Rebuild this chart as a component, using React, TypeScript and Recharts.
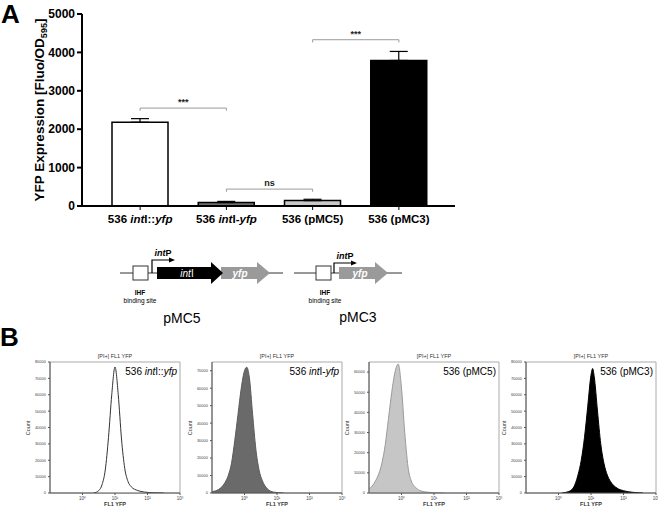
import React from 'react';
import {
  BarChart, Bar, XAxis, YAxis, Cell, ErrorBar, ReferenceLine,
  AreaChart, Area, ReferenceArea,
} from 'recharts';

const FONT = "'Liberation Sans', Arial, sans-serif";

// ---------- Panel A data ----------
const strains = ['536 intI::yfp', '536 intI-yfp', '536 (pMC5)', '536 (pMC3)'];
const yfpMean = [2180, 90, 140, 3790];
const yfpSd = [95, 30, 35, 235];
const barFills = ['#ffffff', '#6e6e6e', '#c8c8c8', '#000000'];
const yTicksA = [0, 1000, 2000, 3000, 4000, 5000];
const bracketFrom = [0, 1, 2];
const bracketTo = [1, 2, 3];
const bracketLevel = [2550, 440, 4330];
const bracketText = ['***', 'ns', '***'];

// ---------- Panel B data (x in log10 units of FL1 YFP) ----------
const histTitles = ['536 intI::yfp', '536 intI-yfp', '536 (pMC5)', '536 (pMC3)'];
const h1x = [0.35, 0.5, 0.6, 0.7, 0.8, 0.9, 1.0, 1.1, 1.2, 1.3, 1.4, 1.5, 1.7, 1.9, 2.2, 2.5];
const h1y = [0, 1500, 5000, 14000, 34000, 60000, 77000, 60000, 33000, 15000, 7000, 3800, 1500, 600, 100, 0];
const h2x = [-1.0, -0.8, -0.6, -0.5, -0.4, -0.3, -0.2, -0.1, 0.0, 0.07, 0.15, 0.25, 0.35, 0.45, 0.55, 0.7, 0.9, 1.2];
const h2y = [800, 2000, 6000, 10000, 17000, 30000, 45000, 60000, 70000, 72000, 66000, 45000, 25000, 13000, 7000, 2500, 500, 0];
const h3x = [-1.0, -0.9, -0.8, -0.7, -0.6, -0.5, -0.4, -0.3, -0.2, -0.1, 0.0, 0.1, 0.2, 0.3, 0.45, 0.6, 0.8, 1.0, 1.3];
const h3y = [2000, 3500, 6000, 9500, 15000, 24000, 37000, 50000, 60000, 64000, 52000, 30000, 13000, 6000, 2500, 1000, 400, 100, 0];
const h4x = [0.1, 0.3, 0.45, 0.6, 0.7, 0.8, 0.9, 1.0, 1.05, 1.1, 1.2, 1.3, 1.4, 1.5, 1.6, 1.8, 2.0, 2.3, 2.6];
const h4y = [0, 800, 3000, 11000, 20000, 34000, 53000, 72000, 76000, 71000, 50000, 30000, 18000, 11000, 7000, 3000, 1400, 400, 0];
const histYMax = [80000, 75000, 65000, 80000];
const histYTicks = [
  [0, 10000, 20000, 30000, 40000, 50000, 60000, 70000, 80000],
  [0, 10000, 20000, 30000, 40000, 50000, 60000, 70000],
  [0, 10000, 20000, 30000, 40000, 50000, 60000],
  [0, 10000, 20000, 30000, 40000, 50000, 60000, 70000, 80000],
];
const logTicks = [0, 1, 2, 3];
const supDigits = ['⁰', '¹', '²', '³', '⁴'];

const histFill = ['#ffffff', '#6a6a6a', '#c6c6c6', '#000000'];
const histStroke = ['#333333', '#5a5a5a', '#9a9a9a', '#000000'];
const histLeft = [50, 212, 369, 526];

const barData = strains.map((s, i) => ({
  name: s,
  mean: yfpMean[i],
  err: [0, yfpSd[i]],
}));

const histSets = [
  h1x.map((x, i) => ({ x, y: h1y[i] })),
  h2x.map((x, i) => ({ x, y: h2y[i] })),
  h3x.map((x, i) => ({ x, y: h3y[i] })),
  h4x.map((x, i) => ({ x, y: h4y[i] })),
];

function italicParts(label: string, fontSize: number, fill = '#000') {
  const parts = label.split(/(int|yfp)/).filter(Boolean);
  return parts.map((p, i) => (
    <tspan key={i} fontStyle={p === 'int' || p === 'yfp' ? 'italic' : 'normal'} fill={fill} fontSize={fontSize}>
      {p}
    </tspan>
  ));
}

const StrainTick = (props: any) => {
  const { x, y, payload } = props;
  return (
    <text x={x} y={y + 11} textAnchor="middle" fontSize={11.5} fontWeight="bold" fontFamily={FONT}>
      {italicParts(String(payload.value), 11.5)}
    </text>
  );
};

function HistPanel({ idx }: { idx: number }) {
  const left = histLeft[idx];
  return (
    <div style={{ position: 'absolute', left: left - 30, top: 350 }}>
      <AreaChart width={165} height={162} data={histSets[idx]} margin={{ top: 12, right: 5, left: 0, bottom: 0 }}>
        <ReferenceArea x1={-1} x2={3} y1={0} y2={histYMax[idx]} fill="none" stroke="#aaaaaa" strokeWidth={1} ifOverflow="visible" />
        <XAxis
          type="number"
          dataKey="x"
          domain={[-1, 3]}
          ticks={logTicks}
          allowDataOverflow
          tickFormatter={(v: number) => '10' + supDigits[v]}
          tick={{ fontSize: 4.5, fill: '#444', fontFamily: FONT }}
          tickSize={2}
          axisLine={{ stroke: '#555' }}
          tickLine={{ stroke: '#555' }}
          height={19}
        />
        <YAxis
          type="number"
          domain={[0, histYMax[idx]]}
          ticks={histYTicks[idx]}
          allowDataOverflow
          tick={{ fontSize: 4, fill: '#444', fontFamily: FONT }}
          tickSize={2}
          axisLine={{ stroke: '#555' }}
          tickLine={{ stroke: '#555' }}
          width={30}
        />
        <Area
          type="monotone"
          dataKey="y"
          fill={histFill[idx]}
          fillOpacity={1}
          stroke={histStroke[idx]}
          strokeWidth={1}
          isAnimationActive={false}
        />
      </AreaChart>
    </div>
  );
}

function Overlay() {
  const g = { fontFamily: FONT };
  return (
    <svg width={658} height={512} style={{ position: 'absolute', left: 0, top: 0, pointerEvents: 'none' }}>
      <g style={g}>
        <text x={1} y={23} fontSize={26} fontWeight="bold">A</text>
        <text x={0} y={346} fontSize={26} fontWeight="bold">B</text>
        {/* y label panel A */}
        <text transform="rotate(-90, 44, 110)" x={44} y={110} textAnchor="middle" fontSize={13.5} fontWeight="bold">
          YFP Expression [Fluo/OD<tspan dy={3} fontSize={9}>595</tspan><tspan dy={-3}>]</tspan>
        </text>

        {/* pMC5 construct */}
        <line x1={120} y1={273} x2={283} y2={273} stroke="#333" strokeWidth={1} />
        <rect x={133} y={266} width={15} height={14} fill="#fff" stroke="#333" strokeWidth={1} />
        <path d="M152,273 V260 H170" fill="none" stroke="#000" strokeWidth={1.2} />
        <polygon points="169,257.5 175,260 169,262.5" fill="#000" />
        <text x={163} y={256} fontSize={9} fontWeight="bold" textAnchor="middle"><tspan fontStyle="italic">int</tspan>P</text>
        <polygon points="221,267 257,267 257,262 270,273 257,284 257,279 221,279" fill="#9a9a9a" />
        <polygon points="157,267 211,267 211,262 223,273 211,284 211,279 157,279" fill="#000" />
        <text x={187} y={277} fontSize={10} fill="#fff" textAnchor="middle"><tspan fontStyle="italic">int</tspan>I</text>
        <text x={240} y={277} fontSize={10} fill="#fff" fontStyle="italic" fontWeight="bold" textAnchor="middle">yfp</text>
        <text x={140} y={295} fontSize={6.5} fontWeight="bold" textAnchor="middle">IHF</text>
        <text x={140} y={303} fontSize={6.5} textAnchor="middle">binding site</text>
        <text x={182} y={323} fontSize={14} textAnchor="middle">pMC5</text>

        {/* pMC3 construct */}
        <line x1={294} y1={273} x2={402} y2={273} stroke="#333" strokeWidth={1} />
        <rect x={316} y={266} width={15} height={14} fill="#fff" stroke="#333" strokeWidth={1} />
        <path d="M334,273 V263 H352" fill="none" stroke="#000" strokeWidth={1.2} />
        <polygon points="351,260.5 357,263 351,265.5" fill="#000" />
        <text x={345} y={259} fontSize={9} fontWeight="bold" textAnchor="middle"><tspan fontStyle="italic">int</tspan>P</text>
        <polygon points="339,267 375,267 375,262 388,273 375,284 375,279 339,279" fill="#9a9a9a" />
        <text x={360} y={277} fontSize={10} fill="#fff" fontStyle="italic" fontWeight="bold" textAnchor="middle">yfp</text>
        <text x={325} y={295} fontSize={6.5} fontWeight="bold" textAnchor="middle">IHF</text>
        <text x={325} y={303} fontSize={6.5} textAnchor="middle">binding site</text>
        <text x={358} y={322} fontSize={14} textAnchor="middle">pMC3</text>

        {/* histogram texts */}
        {histLeft.map((l, i) => (
          <g key={i}>
            <text x={l + 65} y={358} fontSize={5.5} textAnchor="middle" fill="#333">[PI+] FL1 YFP</text>
            <text x={l + 127} y={375} fontSize={10} textAnchor="end">{italicParts(histTitles[i], 10)}</text>
            <text transform={`rotate(-90, ${l - 20}, 428)`} x={l - 20} y={428} fontSize={5.5} textAnchor="middle" fill="#333">Count</text>
            <text x={l + 65} y={506} fontSize={5.5} fontWeight="bold" textAnchor="middle" fill="#333">FL1 YFP</text>
          </g>
        ))}
      </g>
    </svg>
  );
}

export default function App() {
  return (
    <div style={{ position: 'absolute', left: 0, top: 0, width: 658, height: 512, background: '#fff', fontFamily: FONT }}>
      <div style={{ position: 'absolute', left: 0, top: 0 }}>
        <BarChart width={470} height={232} data={barData} margin={{ top: 14, right: 15, left: 0, bottom: 2 }} barSize={56}>
          <XAxis
            dataKey="name"
            type="category"
            padding={{ left: 15, right: 13 }}
            axisLine={{ stroke: '#000', strokeWidth: 2 }}
            tickLine={{ stroke: '#000', strokeWidth: 1 }}
            tickSize={4}
            tick={<StrainTick />}
            interval={0}
            height={24}
          />
          <YAxis
            type="number"
            domain={[0, 5000]}
            ticks={yTicksA}
            width={82}
            axisLine={{ stroke: '#000', strokeWidth: 2 }}
            tickLine={{ stroke: '#000', strokeWidth: 2 }}
            tickSize={5}
            tick={{ fontSize: 12, fontWeight: 'bold', fill: '#000', fontFamily: FONT }}
          />
          {bracketFrom.map((f, i) => (
            <ReferenceLine
              key={'h' + i}
              segment={[{ x: strains[f], y: bracketLevel[i] }, { x: strains[bracketTo[i]], y: bracketLevel[i] }]}
              stroke="#9a9a9a"
              strokeWidth={1}
              label={{ value: bracketText[i], position: 'top', fontSize: 9, fontWeight: 'bold', fill: '#222', offset: 3 }}
            />
          ))}
          {bracketFrom.map((f, i) => (
            <ReferenceLine
              key={'l' + i}
              segment={[{ x: strains[f], y: bracketLevel[i] }, { x: strains[f], y: bracketLevel[i] - 70 }]}
              stroke="#9a9a9a"
              strokeWidth={1}
            />
          ))}
          {bracketTo.map((t, i) => (
            <ReferenceLine
              key={'r' + i}
              segment={[{ x: strains[t], y: bracketLevel[i] }, { x: strains[t], y: bracketLevel[i] - 70 }]}
              stroke="#9a9a9a"
              strokeWidth={1}
            />
          ))}
          <Bar dataKey="mean" stroke="#000" strokeWidth={1.5} isAnimationActive={false}>
            {barData.map((d, i) => (
              <Cell key={i} fill={barFills[i]} />
            ))}
            <ErrorBar dataKey="err" width={9} stroke="#000" strokeWidth={1.2} direction="y" />
          </Bar>
        </BarChart>
      </div>
      {histLeft.map((_, i) => (
        <HistPanel key={i} idx={i} />
      ))}
      <Overlay />
    </div>
  );
}
